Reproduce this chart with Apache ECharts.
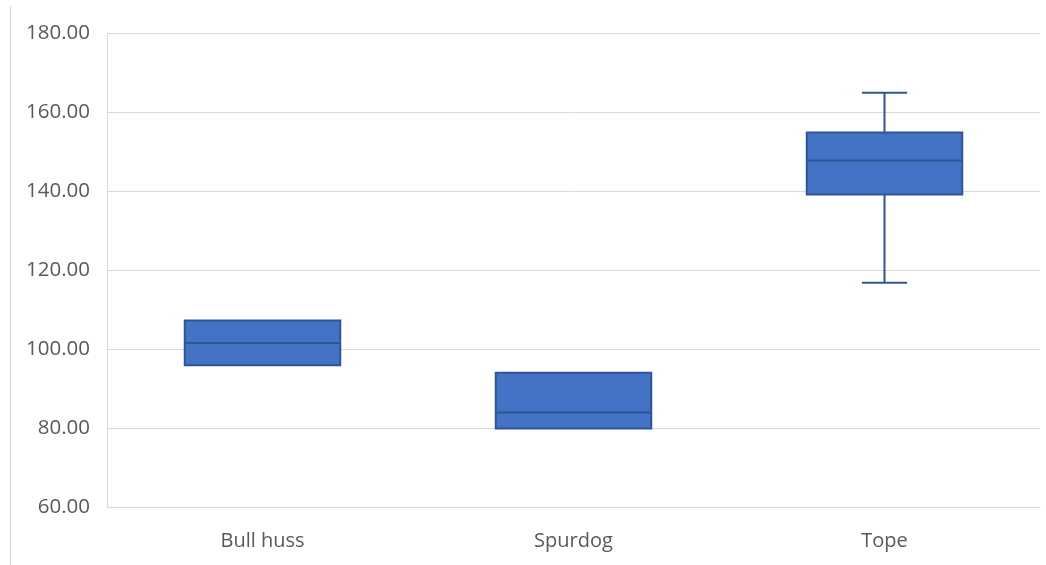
<!DOCTYPE html>
<html>
<head>
<meta charset="utf-8">
<script src="https://cdn.jsdelivr.net/npm/echarts@6/dist/echarts.min.js"></script>
<style>
  html, body { margin: 0; padding: 0; background: #ffffff; }
  #chart { width: 1046px; height: 565px; }
</style>
</head>
<body>
<div id="chart"></div>
<script>
// Species on the category axis
const categories = ['Bull huss', 'Spurdog', 'Tope'];
// Five-number summaries per species
const minValues    = [95.9, 79.9, 116.8];
const q1Values     = [95.9, 79.9, 139.1];
const medianValues = [101.5, 83.9, 147.7];
const q3Values     = [107.2, 94.0, 154.8];
const maxValues    = [107.2, 94.0, 164.9];
// Value axis ticks
const yTicks = [60, 80, 100, 120, 140, 160, 180];

const FILL = '#4472c4';
const EDGE = '#2f5597';
const GRID = '#d9d9d9';
const TEXT = '#595959';
const FONT = '"Open Sans", "Liberation Sans", sans-serif';

const boxData = categories.map((c, i) => [i, minValues[i], q1Values[i], medianValues[i], q3Values[i], maxValues[i]]);

function renderBox(params, api) {
  const i = api.value(0);
  const pMin = api.coord([i, api.value(1)]);
  const pQ1 = api.coord([i, api.value(2)]);
  const pMed = api.coord([i, api.value(3)]);
  const pQ3 = api.coord([i, api.value(4)]);
  const pMax = api.coord([i, api.value(5)]);
  const band = api.size([1, 0])[0];
  const boxW = band * 0.5;
  const capW = band * 0.145;
  const cx = pMed[0];
  const lineStyle = { stroke: EDGE, lineWidth: 2, fill: null };
  const children = [];
  if (api.value(5) > api.value(4)) {
    children.push({ type: 'line', shape: { x1: cx, y1: pQ3[1], x2: cx, y2: pMax[1] }, style: lineStyle });
    children.push({ type: 'line', shape: { x1: cx - capW / 2, y1: pMax[1], x2: cx + capW / 2, y2: pMax[1] }, style: lineStyle });
  }
  if (api.value(1) < api.value(2)) {
    children.push({ type: 'line', shape: { x1: cx, y1: pQ1[1], x2: cx, y2: pMin[1] }, style: lineStyle });
    children.push({ type: 'line', shape: { x1: cx - capW / 2, y1: pMin[1], x2: cx + capW / 2, y2: pMin[1] }, style: lineStyle });
  }
  children.push({
    type: 'rect',
    shape: { x: cx - boxW / 2, y: pQ3[1], width: boxW, height: pQ1[1] - pQ3[1] },
    style: { fill: FILL, stroke: EDGE, lineWidth: 2 }
  });
  children.push({ type: 'line', shape: { x1: cx - boxW / 2, y1: pMed[1], x2: cx + boxW / 2, y2: pMed[1] }, style: lineStyle });
  return { type: 'group', children };
}

const chart = echarts.init(document.getElementById('chart'), null, { renderer: 'canvas' });
chart.setOption({
  backgroundColor: '#ffffff',
  animation: false,
  grid: { left: 107, right: 6, top: 33, bottom: 58, containLabel: false },
  graphic: [{
    type: 'line',
    shape: { x1: 10.5, y1: 6, x2: 10.5, y2: 565 },
    style: { stroke: GRID, lineWidth: 1 }
  }],
  xAxis: {
    type: 'category',
    data: categories,
    axisLine: { show: true, lineStyle: { color: GRID, width: 1 } },
    axisTick: { show: false },
    axisLabel: { color: TEXT, fontSize: 20, fontFamily: FONT, margin: 24 },
    splitLine: { show: false }
  },
  yAxis: {
    type: 'value',
    min: yTicks[0],
    max: yTicks[yTicks.length - 1],
    interval: yTicks[1] - yTicks[0],
    axisLine: { show: true, lineStyle: { color: GRID, width: 1 } },
    axisTick: { show: false },
    axisLabel: { color: TEXT, fontSize: 20.5, fontFamily: FONT, margin: 17, formatter: v => v.toFixed(2) },
    splitLine: { show: true, lineStyle: { color: GRID, width: 1 } }
  },
  series: [{
    type: 'custom',
    renderItem: renderBox,
    encode: { x: 0, y: [1, 2, 3, 4, 5] },
    data: boxData
  }]
});
</script>
</body>
</html>
